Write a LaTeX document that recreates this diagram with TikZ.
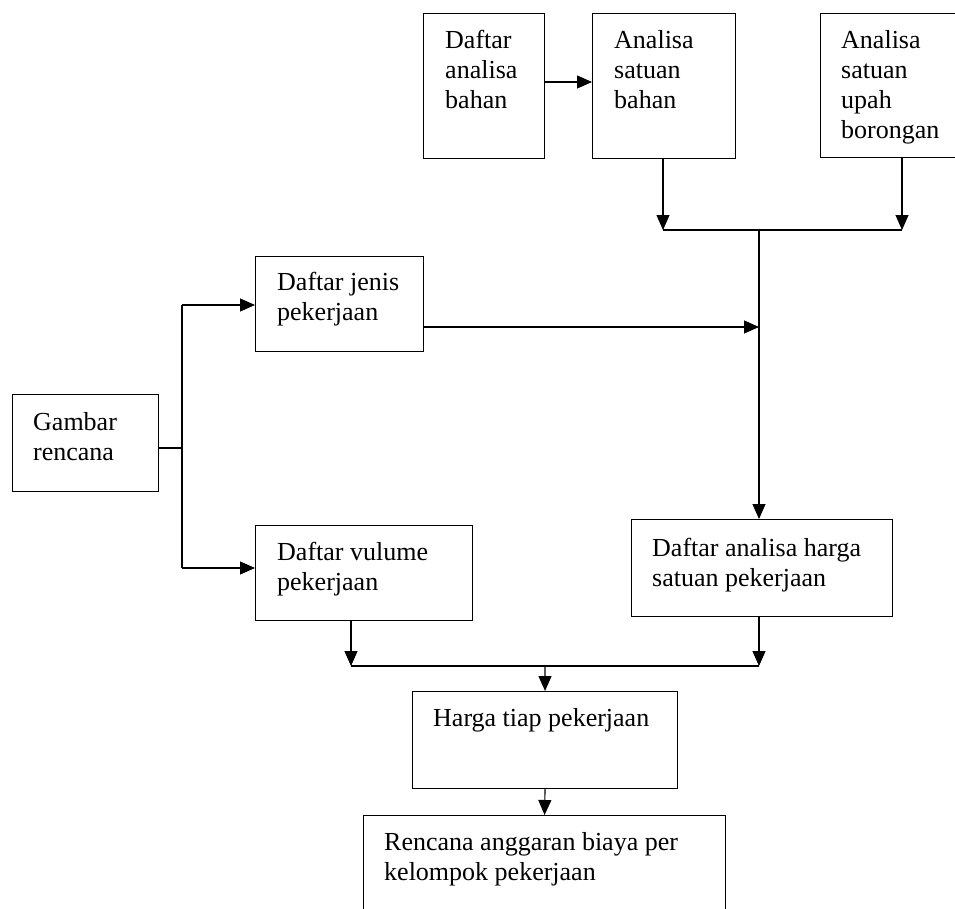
\documentclass[tikz,border=0pt]{standalone}
\usepackage{fontspec}
\setmainfont{Liberation Serif}
\usetikzlibrary{arrows.meta}
\newcommand{\mlines}[1]{\begin{tabular}[t]{@{}l@{}}#1\end{tabular}}
\begin{document}
\begin{tikzpicture}[x=1pt,y=-1pt,
  box/.style={draw, line width=1.1pt, rectangle, inner sep=0pt, anchor=north west},
  txt/.style={anchor=base west, inner sep=0pt, font=\fontsize{26}{30}\selectfont},
  conn/.style={line width=1.1pt},
  arr/.style={conn, -{Triangle[length=15pt,width=13pt]}}]
\useasboundingbox (0,0) rectangle (955,908);

% boxes
\node[box, minimum width=121pt, minimum height=145pt] (dab) at (423,13) {};
\node[box, minimum width=143pt, minimum height=145pt] (asb) at (592,13) {};
\node[box, minimum width=150pt, minimum height=144pt] (upb) at (820,13) {};
\node[box, minimum width=168pt, minimum height=95pt] (djp) at (255,256) {};
\node[box, minimum width=146pt, minimum height=97pt] (gr) at (12,394) {};
\node[box, minimum width=217pt, minimum height=95pt] (dvp) at (255,525) {};
\node[box, minimum width=261pt, minimum height=97pt] (dahs) at (631,519) {};
\node[box, minimum width=265pt, minimum height=97pt] (htp) at (412,691) {};
\node[box, minimum width=362pt, minimum height=120pt] (rps) at (363,815) {};

% texts
\node[txt] (dabt) at (445,48) {\mlines{Daftar\\analisa\\bahan}};
\node[txt] (asbt) at (614,48) {\mlines{Analisa\\satuan\\bahan}};
\node[txt] (upbt) at (841,48) {\mlines{Analisa\\satuan\\upah\\borongan}};
\node[txt] (djpt) at (277,290) {\mlines{Daftar jenis\\pekerjaan}};
\node[txt] (grt) at (33,430) {\mlines{Gambar\\rencana}};
\node[txt] (dvpt) at (277,560) {\mlines{Daftar vulume\\pekerjaan}};
\node[txt] (dahst) at (652,556) {\mlines{Daftar analisa harga\\satuan pekerjaan}};
\node[txt] (htpt) at (433,726) {Harga tiap pekerjaan};
\node[txt] (rpst) at (384,850) {\mlines{Rencana anggaran biaya per\\kelompok pekerjaan}};

% junction coordinates
\coordinate (j1) at (663,230);
\coordinate (j2) at (902,230);
\coordinate (jm) at (759,230);
\coordinate (jt) at (759,327);
\coordinate (gm) at (182,448);
\coordinate (gt) at (182,305);
\coordinate (gb) at (182,568);
\coordinate (b1) at (351,666);
\coordinate (b2) at (759,666);
\coordinate (bm) at (545,666);

% connectors
\draw[arr] (dab.east |- 0,82) -- (asb.west |- 0,82);
\draw[arr] (asb.south -| j1) -- (j1);
\draw[arr] (upb.south -| j2) -- (j2);
\draw[conn] (j1) -- (j2);
\draw[arr] (jm) -- (jm |- dahs.north);
\draw[arr] (djp.east |- jt) -- (jt);

\draw[conn] (gr.east |- gm) -- (gm);
\draw[conn] (gt) -- (gb);
\draw[arr] (gt) -- (djp.west |- gt);
\draw[arr] (gb) -- (dvp.west |- gb);

\draw[arr] (dvp.south -| b1) -- (b1);
\draw[arr] (dahs.south -| b2) -- (b2);
\draw[conn] (b1) -- (b2);
\draw[arr] (bm) -- (htp.north);
\draw[arr] (htp.south) -- (rps.north);
\end{tikzpicture}
\end{document}
